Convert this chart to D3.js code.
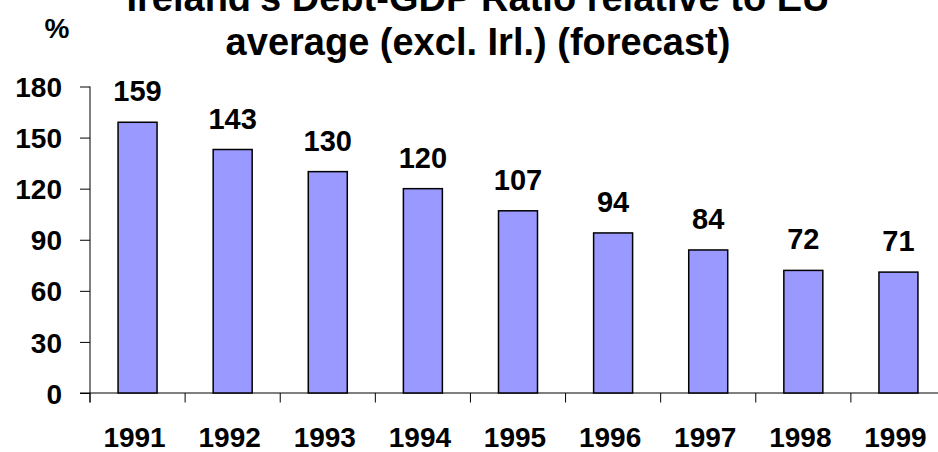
<!DOCTYPE html>
<html>
<head>
<meta charset="utf-8">
<script src="https://cdn.jsdelivr.net/npm/d3@7"></script>
<style>
  html, body { margin: 0; padding: 0; background: #fff; }
  svg { display: block; }
  text { font-family: Arial, "Liberation Sans", sans-serif; font-weight: bold; fill: #000; }
</style>
</head>
<body>
<svg id="chart" width="938" height="452"></svg>
<script>
// Debt/GDP ratio of Ireland relative to the EU average (excl. Ireland), %
const years = ["1991", "1992", "1993", "1994", "1995", "1996", "1997", "1998", "1999"];
const ratio = [159, 143, 130, 120, 107, 94, 84, 72, 71];
const yTicks = [0, 30, 60, 90, 120, 150, 180];
const titleLines = ["Ireland's Debt-GDP Ratio relative to EU", "average (excl. Irl.) (forecast)"];

const svg = d3.select("#chart");

const x = d3.scaleBand()
  .domain(years)
  .range([90, 946])
  .paddingInner(0.59)
  .paddingOuter(0.295);

const y = d3.scaleLinear()
  .domain([0, 180])
  .range([393, 86.5]);

// x axis: baseline with ticks at category boundaries
const band = x.step();
const x0 = x.range()[0];
svg.append("line")
  .attr("x1", 80).attr("x2", 938)
  .attr("y1", y(0)).attr("y2", y(0))
  .attr("stroke", "#000").attr("stroke-width", 1);
svg.selectAll("line.xtick")
  .data(d3.range(years.length + 1))
  .join("line")
  .attr("class", "xtick")
  .attr("x1", i => x0 + i * band).attr("x2", i => x0 + i * band)
  .attr("y1", y(0)).attr("y2", y(0) + 9.5)
  .attr("stroke", "#000").attr("stroke-width", 1);

// y axis
const yAxis = d3.axisLeft(y)
  .tickValues(yTicks)
  .tickSize(10)
  .tickPadding(18);
const gy = svg.append("g")
  .attr("transform", `translate(${x0},0)`)
  .call(yAxis);
gy.select(".domain").remove();
gy.append("line")
  .attr("x1", 0).attr("x2", 0)
  .attr("y1", y(180)).attr("y2", y(0) + 9.5)
  .attr("stroke", "#000");
gy.selectAll(".tick line").attr("stroke", "#000");
gy.selectAll(".tick text")
  .attr("font-size", 28)
  .attr("font-weight", "bold")
  .attr("font-family", "Arial, 'Liberation Sans', sans-serif")
  .attr("fill", "#000")
  .attr("dy", "0.36em");

// bars
svg.selectAll("rect.bar")
  .data(years.map((yr, i) => ({ yr, v: ratio[i] })))
  .join("rect")
  .attr("class", "bar")
  .attr("x", d => x(d.yr))
  .attr("width", x.bandwidth())
  .attr("y", d => y(d.v))
  .attr("height", d => y(0) - y(d.v))
  .attr("fill", "#9999FF")
  .attr("stroke", "#000")
  .attr("stroke-width", 1.5);

// value labels
svg.selectAll("text.val")
  .data(years.map((yr, i) => ({ yr, v: ratio[i] })))
  .join("text")
  .attr("class", "val")
  .attr("x", d => x(d.yr) + x.bandwidth() / 2)
  .attr("y", d => y(d.v) - 21)
  .attr("text-anchor", "middle")
  .attr("font-size", 29)
  .text(d => d.v);

// category labels
svg.selectAll("text.cat")
  .data(years)
  .join("text")
  .attr("class", "cat")
  .attr("x", d => x(d) + x.bandwidth() / 2 - 3)
  .attr("y", 447)
  .attr("text-anchor", "middle")
  .attr("font-size", 28)
  .text(d => d);

// unit label
svg.append("text")
  .attr("x", 57).attr("y", 38)
  .attr("text-anchor", "middle")
  .attr("font-size", 28)
  .text("%");

// title
svg.selectAll("text.title")
  .data(titleLines)
  .join("text")
  .attr("class", "title")
  .attr("x", 478)
  .attr("y", (d, i) => 11 + i * 44)
  .attr("text-anchor", "middle")
  .attr("font-size", 38)
  .text(d => d);
</script>
</body>
</html>
